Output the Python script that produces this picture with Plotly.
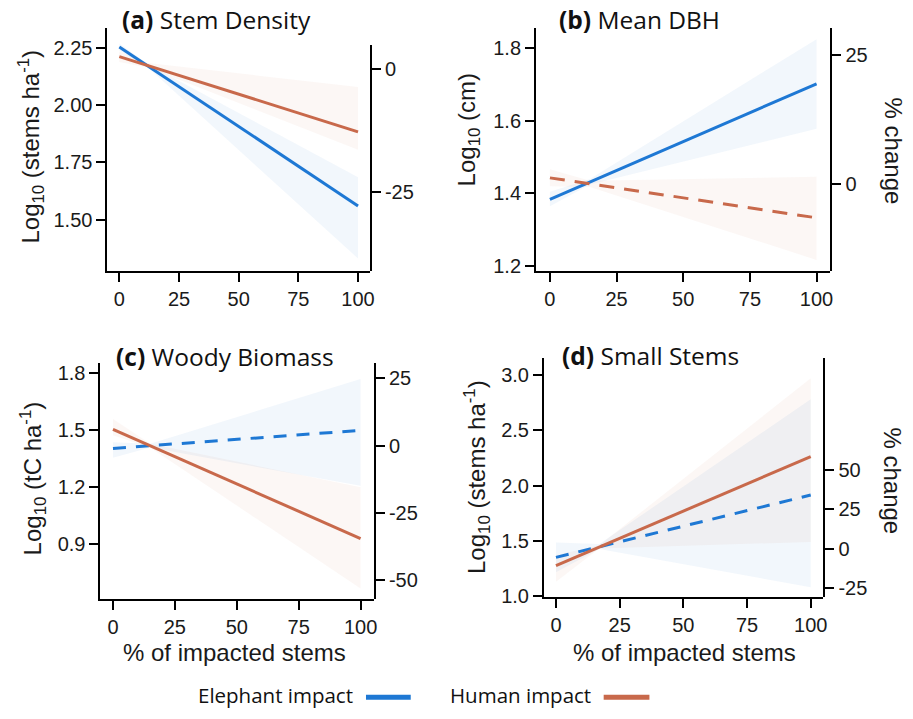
import plotly.graph_objects as go

W, H = 913, 719

# ---------------- data ----------------
x_ends = [0, 100]
x_ticks = [0, 25, 50, 75, 100]

# (a) Stem Density
a_eleph = [2.255, 1.56]
a_human = [2.213, 1.884]
a_band_x = [0, 12, 100]
a_eleph_lo = [2.24, 2.165, 1.33]
a_eleph_hi = [2.27, 2.18, 1.685]
a_human_lo = [2.19, 2.165, 1.806]
a_human_hi = [2.235, 2.185, 2.08]
a_left_ticks = [1.50, 1.75, 2.00, 2.25]
a_left_labels = ["1.50", "1.75", "2.00", "2.25"]
a_right_ticks = [-25, 0]

# (b) Mean DBH
b_eleph = [1.384, 1.702]
b_human = [1.443, 1.333]
b_band_x = [0, 15, 100]
b_eleph_lo = [1.365, 1.425, 1.578]
b_eleph_hi = [1.405, 1.44, 1.825]
b_human_lo = [1.42, 1.418, 1.217]
b_human_hi = [1.467, 1.435, 1.446]
b_left_ticks = [1.2, 1.4, 1.6, 1.8]
b_left_labels = ["1.2", "1.4", "1.6", "1.8"]
b_right_ticks = [0, 25]

# (c) Woody Biomass
c_eleph = [1.405, 1.50]
c_human = [1.505, 0.93]
c_band_x = [0, 15, 100]
c_eleph_lo = [1.356, 1.41, 1.208]
c_eleph_hi = [1.438, 1.43, 1.77]
c_human_lo = [1.474, 1.41, 0.667]
c_human_hi = [1.56, 1.43, 1.20]
c_left_ticks = [0.9, 1.2, 1.5, 1.8]
c_left_labels = ["0.9", "1.2", "1.5", "1.8"]
c_right_ticks = [-50, -25, 0, 25]

# (d) Small Stems
d_eleph = [1.35, 1.914]
d_human = [1.276, 2.261]
d_band_x = [0, 17, 100]
d_eleph_lo = [1.216, 1.425, 1.08]
d_eleph_hi = [1.484, 1.47, 2.78]
d_human_lo = [1.13, 1.43, 1.49]
d_human_hi = [1.37, 1.46, 2.97]
d_left_ticks = [1.0, 1.5, 2.0, 2.5, 3.0]
d_left_labels = ["1.0", "1.5", "2.0", "2.5", "3.0"]
d_right_ticks = [-25, 0, 25, 50]

titles = ["Stem Density", "Mean DBH", "Woody Biomass", "Small Stems"]
letters = ["(a)", "(b)", "(c)", "(d)"]
left_titles = ["Log<sub>10</sub> (stems ha<sup>-1</sup>)", "Log<sub>10</sub> (cm)",
               "Log<sub>10</sub> (tC ha<sup>-1</sup>)", "Log<sub>10</sub> (stems ha<sup>-1</sup>)"]
right_title = "% change"
x_title = "% of impacted stems"
legend_names = ["Elephant impact", "Human impact"]

BLUE = "rgb(30,120,212)"
ORANGE = "rgb(200,105,75)"
BLUE_FILL = "rgba(30,120,212,0.06)"
ORANGE_FILL = "rgba(200,105,75,0.055)"

# ---------------- layout geometry (pixels) ----------------
panels = [
    dict(xl=108, xr=372, yt=27, yb=274, rt=45, xr_=[-5, 105], yr=[1.276, 2.34], rr=[-41, 4.8],
         eleph=a_eleph, human=a_human, bx=a_band_x, elo=a_eleph_lo, ehi=a_eleph_hi,
         hlo=a_human_lo, hhi=a_human_hi, lt=a_left_ticks, ll=a_left_labels, rtk=a_right_ticks,
         edash="solid", hdash="solid"),
    dict(xl=539, xr=835, yt=27, yb=274, rt=27, xr_=[-5.2, 105.2], yr=[1.187, 1.857], rr=[-16.8, 30.3],
         eleph=b_eleph, human=b_human, bx=b_band_x, elo=b_eleph_lo, ehi=b_eleph_hi,
         hlo=b_human_lo, hhi=b_human_hi, lt=b_left_ticks, ll=b_left_labels, rtk=b_right_ticks,
         edash="solid", hdash="15px,10px"),
    dict(xl=101, xr=376, yt=368, yb=607, rt=368, xr_=[-5.06, 105.4], yr=[0.613, 1.853], rr=[-56.8, 30.6],
         eleph=c_eleph, human=c_human, bx=c_band_x, elo=c_eleph_lo, ehi=c_eleph_hi,
         hlo=c_human_lo, hhi=c_human_hi, lt=c_left_ticks, ll=c_left_labels, rtk=c_right_ticks,
         edash="13px,10px", hdash="solid"),
    dict(xl=547, xr=828, yt=363, yb=605, rt=363, xr_=[-4.7, 105], yr=[0.994, 3.149], rr=[-30.6, 120.6],
         eleph=d_eleph, human=d_human, bx=d_band_x, elo=d_eleph_lo, ehi=d_eleph_hi,
         hlo=d_human_lo, hhi=d_human_hi, lt=d_left_ticks, ll=d_left_labels, rtk=d_right_ticks,
         edash="13px,10px", hdash="solid"),
]

def fx(p):
    return p / W

def fy(p):
    return 1 - p / H

TICK_FONT = dict(family="Liberation Sans", size=20, color="#1a1a1a")
TITLE_FONT = dict(family="Liberation Sans", size=24, color="#1a1a1a")
HEAD_FONT = dict(family="Open Sans", size=24.5, color="#111")
LEG_FONT = dict(family="Open Sans", size=20.5, color="#111")

fig = go.Figure()
layout = dict(width=W, height=H, margin=dict(l=0, r=0, t=0, b=0),
              paper_bgcolor="white", plot_bgcolor="rgba(0,0,0,0)", showlegend=False)
annotations = []
shapes = []

for i, p in enumerate(panels):
    xa = f"x{i+1}" if i else "x"
    yl_n = 2 * i + 1
    yr_n = 2 * i + 2
    yl = f"y{yl_n}" if yl_n > 1 else "y"
    yr = f"y{yr_n}"
    xkey = f"xaxis{i+1}" if i else "xaxis"
    ylkey = f"yaxis{yl_n}" if yl_n > 1 else "yaxis"
    yrkey = f"yaxis{yr_n}"

    # confidence bands
    for lo, hi, col in [(p["elo"], p["ehi"], BLUE_FILL), (p["hlo"], p["hhi"], ORANGE_FILL)]:
        fig.add_trace(go.Scatter(x=p["bx"] + p["bx"][::-1], y=lo + hi[::-1], fill="toself",
                                 fillcolor=col, line=dict(width=0), mode="lines",
                                 hoverinfo="skip", xaxis=xa, yaxis=yl))
    # fitted lines
    fig.add_trace(go.Scatter(x=x_ends, y=p["eleph"], mode="lines", name=legend_names[0],
                             line=dict(color=BLUE, width=3, dash=p["edash"]), xaxis=xa, yaxis=yl))
    fig.add_trace(go.Scatter(x=x_ends, y=p["human"], mode="lines", name=legend_names[1],
                             line=dict(color=ORANGE, width=3, dash=p["hdash"]), xaxis=xa, yaxis=yl))
    # empty trace so the right (% change) axis is drawn
    fig.add_trace(go.Scatter(x=[], y=[], xaxis=xa, yaxis=yr, hoverinfo="skip"))

    common = dict(showline=True, linecolor="black", linewidth=2,
                  ticks="outside", ticklen=9, tickwidth=2, tickcolor="black",
                  showgrid=False, zeroline=False, tickfont=TICK_FONT, fixedrange=True)
    layout[xkey] = dict(domain=[fx(p["xl"]), fx(p["xr"])], range=p["xr_"], anchor=yl,
                        tickvals=x_ticks, ticktext=[str(v) for v in x_ticks], **common)
    layout[ylkey] = dict(domain=[fy(p["yb"]), fy(p["yt"])], range=p["yr"], anchor=xa,
                         tickvals=p["lt"], ticktext=p["ll"], **common)
    layout[yrkey] = dict(domain=[fy(p["yb"]), fy(p["rt"])], range=p["rr"], anchor=xa, side="right",
                         tickvals=p["rtk"], ticktext=[str(v) for v in p["rtk"]], **common)

# panel headings
head_pos = [(121, 19), (560, 19), (115, 361), (563, 360)]
for (hx, hy), let, t in zip(head_pos, letters, titles):
    annotations.append(dict(x=fx(hx), y=fy(hy), xref="paper", yref="paper", xanchor="left",
                            yanchor="middle", showarrow=False, text=f"<b>{let}</b> {t}", font=HEAD_FONT))

# left axis titles
left_pos = [(31, 148), (472, 131), (33, 485), (479, 483)]
for (lx, ly), t in zip(left_pos, left_titles):
    annotations.append(dict(x=fx(lx), y=fy(ly), xref="paper", yref="paper", xanchor="center",
                            yanchor="middle", showarrow=False, text=t, textangle=-90, font=TITLE_FONT))
# right axis titles
for (rx, ry) in [(898, 152), (897, 487)]:
    annotations.append(dict(x=fx(rx), y=fy(ry), xref="paper", yref="paper", xanchor="center",
                            yanchor="middle", showarrow=False, text=right_title, textangle=90,
                            font=TITLE_FONT))
# x titles
for xx in [236, 688]:
    annotations.append(dict(x=fx(xx), y=fy(662), xref="paper", yref="paper", xanchor="center",
                            yanchor="middle", showarrow=False, text=x_title, font=TITLE_FONT))

# legend (text then key line, as in the reference)
for name, tx, (s0, s1), col in [(legend_names[0], 197, (368, 413), BLUE),
                                 (legend_names[1], 450, (607, 653), ORANGE)]:
    annotations.append(dict(x=fx(tx), y=fy(705), xref="paper", yref="paper", xanchor="left",
                            yanchor="middle", showarrow=False, text=name, font=LEG_FONT))
    shapes.append(dict(type="line", xref="paper", yref="paper", x0=fx(s0), x1=fx(s1),
                       y0=fy(707), y1=fy(707), line=dict(color=col, width=5)))

layout["annotations"] = annotations
layout["shapes"] = shapes
fig.update_layout(**layout)
fig.write_html("out.html", config={"displayModeBar": False},
               post_script="document.body.style.margin='0px';")
